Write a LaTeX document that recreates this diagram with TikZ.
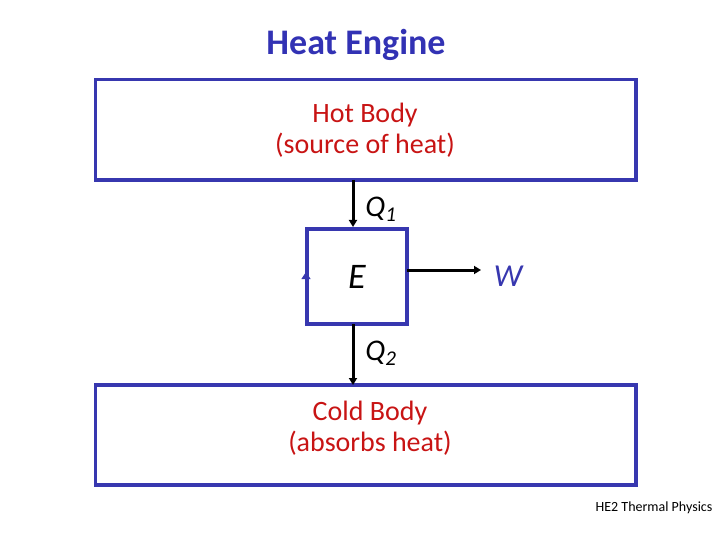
\documentclass[tikz,border=0pt]{standalone}
\usepackage{fontspec}
\setmainfont{Carlito}
\usetikzlibrary{arrows.meta}
\definecolor{boxblue}{RGB}{55,55,175}
\definecolor{titleblue}{RGB}{50,50,180}
\definecolor{txtred}{RGB}{200,20,20}
\tikzset{
  body/.style={draw=boxblue, line width=3.2pt},
  flow/.style={line width=3pt, -{Triangle[length=7pt,width=8pt]}},
  bodytext/.style={text=txtred, font=\fontsize{28}{31}\selectfont, align=center, inner sep=0pt},
  sym/.style={font=\fontsize{30}{32}\selectfont\itshape},
}
\begin{document}
\begin{tikzpicture}[x=1pt,y=-1pt]
\useasboundingbox (0,0) rectangle (720,540);
\node[text=titleblue, font=\fontsize{36}{40}\selectfont\bfseries] (title) at (356,45) {Heat Engine};
\draw[body] (95.5,79.5) rectangle (636,180);
\coordinate (hotbot) at (353,180);
\node[bodytext] (hot) at (365,130) {Hot Body\\(source of heat)};
\draw[body] (95.5,385) rectangle (636,485);
\coordinate (coldtop) at (353,385);
\node[bodytext] (cold) at (370,428) {Cold Body\\(absorbs heat)};
\draw[body, line width=3.6pt] (307,229) rectangle (407,324);
\coordinate (etop) at (353,227);
\coordinate (ebot) at (353,324);
\coordinate (eright) at (407,270);
\coordinate (wend) at (481,270);
\node[sym, font=\fontsize{36}{38}\selectfont\itshape] (E) at (357,277) {E};
\node[sym, text=boxblue, font=\fontsize{32}{34}\selectfont\itshape] (W) at (508,276) {W};
\node[sym] (Q1) at (381,209) {Q\textsubscript{1}};
\node[sym] (Q2) at (381,353) {Q\textsubscript{2}};
\draw[flow] (hotbot) -- (etop);
\draw[flow] (ebot) -- (coldtop);
\draw[flow] (eright) -- (wend);
\coordinate (ua) at (306,282);
\coordinate (ub) at (306,272);
\draw[draw=boxblue, line width=1pt, -{Triangle[length=7pt,width=9pt]}] (ua) -- (ub);
\node[font=\fontsize{14}{16}\selectfont] (foot) at (654,508) {HE2 Thermal Physics};
\end{tikzpicture}
\end{document}
